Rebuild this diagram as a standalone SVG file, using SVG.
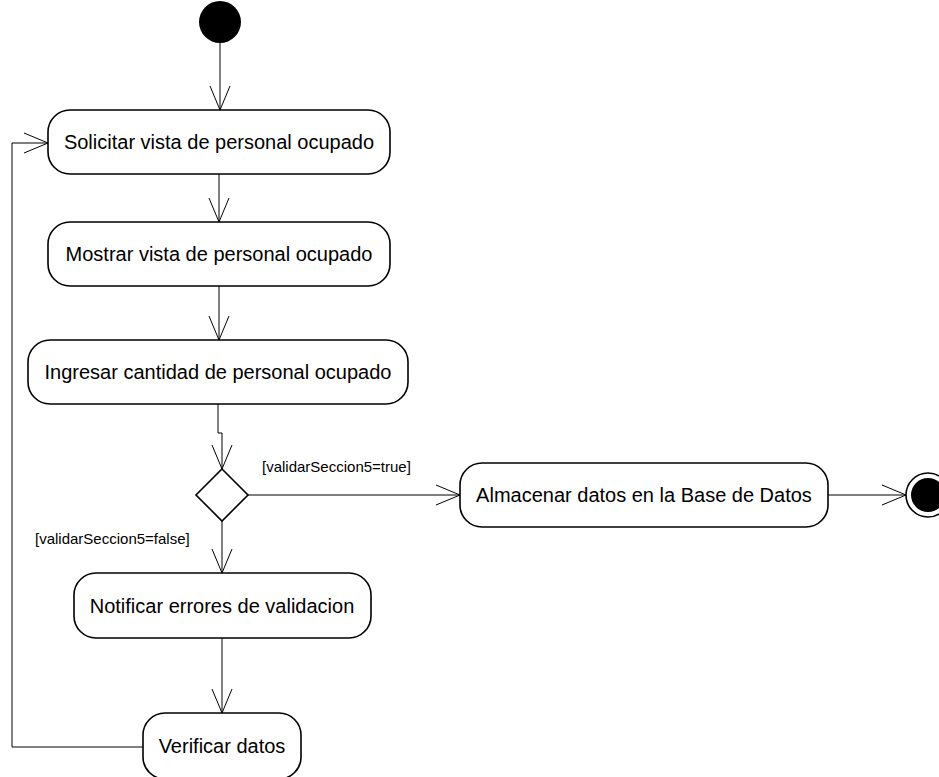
<svg xmlns="http://www.w3.org/2000/svg" width="939" height="777" viewBox="0 0 939 777">
<style>
.node rect{fill:#fff;stroke:#000;stroke-width:1.6}
.node text{font-family:"Liberation Sans",Arial,sans-serif;font-size:20px;fill:#000;text-anchor:middle;dominant-baseline:central}
.edge{fill:none;stroke:#000;stroke-width:1}
.lbl{font-family:"Liberation Sans",Arial,sans-serif;font-size:15px;fill:#000}
</style>
<defs>
<marker id="arr" viewBox="-26 -12 28 24" refX="0" refY="0" markerWidth="28" markerHeight="24" markerUnits="userSpaceOnUse" orient="auto">
<path d="M-24,-10 L0,0 L-24,10" fill="none" stroke="#000" stroke-width="1"/>
</marker>
</defs>
<g id="start"><circle cx="220" cy="22" r="21" fill="#000"/></g>
<g id="n1" class="node"><rect x="48" y="110" width="342" height="64" rx="22"/><text x="219" y="142">Solicitar vista de personal ocupado</text></g>
<g id="n2" class="node"><rect x="48" y="222" width="342" height="64" rx="22"/><text x="219" y="254">Mostrar vista de personal ocupado</text></g>
<g id="n3" class="node"><rect x="28" y="340" width="380" height="64" rx="22"/><text x="218" y="372">Ingresar cantidad de personal ocupado</text></g>
<g id="decision"><path d="M222,469 L248,495 L222,521 L196,495 Z" fill="#fff" stroke="#000" stroke-width="1.6"/></g>
<g id="n4" class="node"><rect x="460" y="463" width="368" height="64" rx="22"/><text x="644" y="495">Almacenar datos en la Base de Datos</text></g>
<g id="end"><circle cx="928" cy="495" r="22" fill="#fff" stroke="#000" stroke-width="1.6"/><circle cx="928" cy="495" r="17" fill="#000"/></g>
<g id="n5" class="node"><rect x="74" y="573" width="297" height="65" rx="22"/><text x="222" y="606">Notificar errores de validacion</text></g>
<g id="n6" class="node"><rect x="143" y="713" width="158" height="66" rx="22"/><text x="222" y="746">Verificar datos</text></g>
<g id="connectors">
<path class="edge" d="M220,43 L220,110" marker-end="url(#arr)"/>
<path class="edge" d="M219,174 L219,222" marker-end="url(#arr)"/>
<path class="edge" d="M219,286 L219,340" marker-end="url(#arr)"/>
<path class="edge" d="M218,404 L218,433 L222,433 L222,469" marker-end="url(#arr)"/>
<path class="edge" d="M248,495 L460,495" marker-end="url(#arr)"/>
<path class="edge" d="M828,495 L906,495" marker-end="url(#arr)"/>
<path class="edge" d="M222,521 L222,573" marker-end="url(#arr)"/>
<path class="edge" d="M222,638 L222,713" marker-end="url(#arr)"/>
<path class="edge" d="M143,747 L12,747 L12,143 L48,143" marker-end="url(#arr)"/>
<text class="lbl" x="262" y="472">[validarSeccion5=true]</text>
<text class="lbl" x="35" y="544">[validarSeccion5=false]</text>
</g>
</svg>
